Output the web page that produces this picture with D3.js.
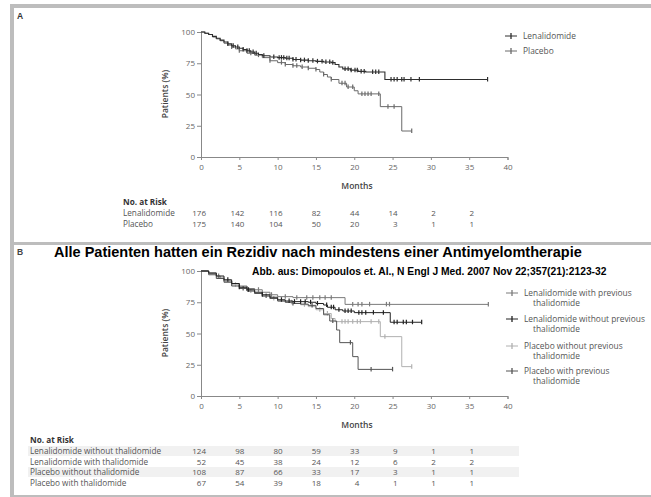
<!DOCTYPE html>
<html><head><meta charset="utf-8">
<script src="https://cdn.jsdelivr.net/npm/d3@7"></script>
<style>
html,body{margin:0;padding:0;background:#fff;}
svg{display:block;}
text{font-family:"Open Sans","DejaVu Sans",sans-serif;}
</style></head>
<body>
<svg id="chart" width="651" height="497"></svg>
<script>
// ---------- DATA ----------
const monthTicks = [0,5,10,15,20,25,30,35,40];
const pctTicks = [0,25,50,75,100];
const riskMonths = [0,5,10,15,20,25,30,35];

// Panel A
const seriesA = ["Lenalidomide","Placebo"];
const lenaA = [[0,100],[0.5,99],[1,98],[1.5,96.5],[2,95],[2.5,93.5],[3,92],[3.5,90.5],[4,89],[4.5,88],[5,87],[5.5,86],[6,85],[6.5,84],[7,83],[7.5,82],[8,81],[9,80],[10,79.5],[11,79],[12,78],[13,77.5],[14,77],[15,76.5],[16,76],[17,75.5],[17.5,74],[18,72],[18.5,70.5],[19.5,69.5],[20.5,68.5],[21.5,68],[24,62]];
const lenaAEnd = 37.4;
const lenaACens = [3.5,4.2,4.8,5.5,6,6.3,6.8,7.2,8.2,9.5,10.2,10.5,10.8,11.2,11.5,12,12.4,13,13.5,14,14.6,15.2,15.8,16.3,16.8,17.2,18.8,19.2,19.6,20.1,20.4,20.9,21.3,22.4,22.8,23.2,24.8,25.2,25.6,26.2,26.5,27.4,28.5,37.4];
const placA = [[0,100],[0.5,99],[1,98],[1.5,96],[2,94.5],[2.5,93],[3,91],[3.5,89.5],[4,88],[4.5,86.5],[5,85],[6,83],[7,81.5],[8,79.5],[9,77],[10,75.5],[11,74],[12,73],[13,72],[14,71],[15,70],[15.5,68],[16,66],[16.5,64],[17,62],[18,59],[19,56],[20,53],[20.5,50.5],[23.4,40.3],[26.2,20.8]];
const placAEnd = 27.5;
const placACens = [4,5,6.5,7.5,9,10.5,11,12,12.5,13.2,14,15,16,17,18.4,18.8,19.2,19.8,21,21.4,21.8,22.2,23.2,24.4,25.2,27.5];
const riskA_lena = [176,142,116,82,44,14,2,2];
const riskA_plac = [175,140,104,50,20,3,1,1];

// Panel B
const seriesB = ["Lenalidomide with previous|thalidomide","Lenalidomide without previous|thalidomide","Placebo without previous|thalidomide","Placebo with previous|thalidomide"];
const lenaWith = [[0,100],[1,98],[2,96],[2.5,94],[3,92],[4,90],[5,88],[6,86],[7,85],[8,83],[9,81],[10,79.5],[12,78.7],[18.8,73.3]];
const lenaWithEnd = 37.5;
const lenaWithCens = [2.3,4,6,7.5,9.2,11,12.5,13.8,14.6,15.5,16.2,17,19.8,20.5,21,22,24.2,24.6,37.5];
const lenaWithout = [[0,100],[1,98.5],[2,96],[3,93],[4,90],[5,87],[6,85],[7,83],[8,81],[9,79],[10,77],[11,76],[12,75.5],[14,75],[15,74],[16,72.8],[16.5,71],[17.5,69],[18.5,68],[20,66.7],[24.7,59]];
const lenaWithoutEnd = 28.8;
const lenaWithoutCens = [3.5,5,6.2,8,10.5,11.5,12.2,13,13.6,14.3,15.2,16.4,17,17.3,18,18.8,19.2,19.6,20.6,21,21.5,22.5,23.8,25.2,25.6,26.4,26.8,27.6,28.8];
const placWithout = [[0,100],[1,98],[2,95],[3,92],[4,89],[5,87],[6,84],[7,82],[8,80],[9,78],[10,76],[11,75],[12,74],[13,73],[14,71.5],[15,69],[16,66],[17,62],[17.5,59.5],[23.4,47.5],[26.2,23.5]];
const placWithoutEnd = 27.5;
const placWithoutCens = [4.5,6.5,9.5,11.8,13.5,15.5,16.5,18.4,18.8,19.2,19.8,20.4,20.8,22.2,23.2,24,27.5];
const placWith = [[0,100],[1,97],[2,94],[3,91],[4,88],[5,86],[6,84],[7,82],[8,80],[9,78],[10,76],[11,75],[12,74],[13,73.5],[14,72.5],[15,70],[16,65],[16.8,60],[17.7,52.8],[18.1,42.7],[19.8,31.5],[20.5,21.3]];
const placWithEnd = 25;
const placWithCens = [5.5,8.5,12,14.5,17.2,19.5,22.2,25];
const riskLabelsB = ["Lenalidomide without thalidomide","Lenalidomide with thalidomide","Placebo without thalidomide","Placebo with thalidomide"];
const riskB_lenaWithout = [124,98,80,59,33,9,1,1];
const riskB_lenaWith = [52,45,38,24,12,6,2,2];
const riskB_placWithout = [108,87,66,33,17,3,1,1];
const riskB_placWith = [67,54,39,18,4,1,1,1];

const titleB = "Alle Patienten hatten ein Rezidiv nach mindestens einer Antimyelomtherapie";
const subtitleB = "Abb. aus: Dimopoulos et. Al., N Engl J Med. 2007 Nov 22;357(21):2123-32";

// ---------- DRAW ----------
const svg = d3.select("#chart");
const frame = "#bdbdbd";
svg.append("rect").attr("x",10).attr("y",4).attr("width",641).attr("height",4).attr("fill",frame);
svg.append("rect").attr("x",10).attr("y",4).attr("width",4).attr("height",493).attr("fill",frame);
svg.append("rect").attr("x",10).attr("y",242).attr("width",641).attr("height",3).attr("fill",frame);
svg.append("rect").attr("x",10).attr("y",495).attr("width",641).attr("height",2).attr("fill",frame);

svg.append("text").attr("x",17).attr("y",18.5).text("A").attr("font-size",8.5).attr("font-weight","bold").attr("fill","#333").style("font-family","Liberation Sans, Arial, sans-serif");
svg.append("text").attr("x",17).attr("y",255).text("B").attr("font-size",8.5).attr("font-weight","bold").attr("fill","#444").style("font-family","Liberation Sans, Arial, sans-serif");

const x = d3.scaleLinear().domain([0,40]).range([201,507.5]);

function survAt(pts, t){ let s = pts[0][1]; for(const p of pts){ if(p[0] <= t) s = p[1]; } return s; }

function panel(top, curves){
  const y = d3.scaleLinear().domain([0,100]).range([top+125, top]);
  const g = svg.append("g");
  const ax = g.append("g").attr("transform",`translate(201,0)`).call(d3.axisLeft(y).tickValues(pctTicks).tickSize(4).tickPadding(2));
  const bx = g.append("g").attr("transform",`translate(0,${top+125})`).call(d3.axisBottom(x).tickValues(monthTicks).tickSize(3).tickPadding(4));
  [ax,bx].forEach(a=>{
    a.select(".domain").attr("stroke","#888");
    a.selectAll(".tick line").attr("stroke","#888");
    a.selectAll(".tick text").attr("fill","#666").attr("font-size",8).style("font-family","Open Sans, sans-serif");
  });
  g.append("text").attr("transform",`translate(168,${top+62}) rotate(-90)`).attr("text-anchor","middle").attr("font-size",8.5).attr("font-weight","600").attr("fill","#444").text("Patients (%)");
  g.append("text").attr("x",357).attr("y",top+157).attr("text-anchor","middle").attr("font-size",8.5).attr("font-weight","600").attr("fill","#444").text("Months");
  const line = d3.line().x(d=>x(d[0])).y(d=>y(d[1])).curve(d3.curveStepAfter);
  curves.forEach(c=>{
    const pts = c.pts.concat([[c.end, c.pts[c.pts.length-1][1]]]);
    g.append("path").attr("d",line(pts)).attr("fill","none").attr("stroke",c.color).attr("stroke-width",c.w||1);
    g.selectAll(null).data(c.cens).enter().append("line")
      .attr("x1",d=>x(d)).attr("x2",d=>x(d))
      .attr("y1",d=>y(survAt(c.pts,d))-2.5).attr("y2",d=>y(survAt(c.pts,d))+2)
      .attr("stroke",c.color).attr("stroke-width",1.2);
  });
  return y;
}

const colA = ["#2e2e2e","#6a6a6a"];
panel(32,[
  {pts:placA,end:placAEnd,cens:placACens,color:colA[1],w:1},
  {pts:lenaA,end:lenaAEnd,cens:lenaACens,color:colA[0],w:1.1}
]);
const colB = ["#7a7a7a","#222","#b0b0b0","#555"];
panel(271,[
  {pts:placWithout,end:placWithoutEnd,cens:placWithoutCens,color:colB[2]},
  {pts:lenaWith,end:lenaWithEnd,cens:lenaWithCens,color:colB[0]},
  {pts:placWith,end:placWithEnd,cens:placWithCens,color:colB[3]},
  {pts:lenaWithout,end:lenaWithoutEnd,cens:lenaWithoutCens,color:colB[1]}
]);

// Legends
function legendItem(xs, ys, color, lines){
  svg.append("line").attr("x1",xs).attr("x2",xs+12).attr("y1",ys-3).attr("y2",ys-3).attr("stroke",color).attr("stroke-width",1);
  svg.append("line").attr("x1",xs+6).attr("x2",xs+6).attr("y1",ys-6).attr("y2",ys).attr("stroke",color).attr("stroke-width",1.3);
  lines.forEach((t,i)=>{
    svg.append("text").attr("x",i===0?xs+18:xs+27).attr("y",ys+i*9.8).attr("font-size",8.4).attr("fill","#555").text(t);
  });
}
legendItem(505,39,colA[0],[seriesA[0]]);
legendItem(505,54,colA[1],[seriesA[1]]);
const legY = [296,322,349,374];
seriesB.forEach((s,i)=>legendItem(506,legY[i],colB[i],s.split("|")));

// Risk tables
function riskTable(x0, ytitle, rows, bands, bandEnd, fs){
  svg.append("text").attr("x",x0).attr("y",ytitle).attr("font-size",8.2).attr("font-weight","bold").attr("fill","#333").text("No. at Risk");
  rows.forEach((r,i)=>{
    const yy = ytitle + 11 + i*10.5;
    if(bands && i%2===0){
      svg.append("rect").attr("x",x0-2).attr("y",yy-8).attr("width",bandEnd-x0+2).attr("height",10).attr("fill","#f1f1f1");
    }
    svg.append("text").attr("x",x0).attr("y",yy).attr("font-size",fs).attr("fill","#555").text(r.label);
    svg.selectAll(null).data(r.vals).enter().append("text")
      .attr("x",(d,j)=>x(riskMonths[j])+5).attr("y",yy).attr("text-anchor","end")
      .attr("font-size",8).attr("fill","#555").text(d=>d);
  });
}
riskTable(123,205,[{label:"Lenalidomide",vals:riskA_lena},{label:"Placebo",vals:riskA_plac}],false,0,8.2);
riskTable(30,443,[
  {label:riskLabelsB[0],vals:riskB_lenaWithout},
  {label:riskLabelsB[1],vals:riskB_lenaWith},
  {label:riskLabelsB[2],vals:riskB_placWithout},
  {label:riskLabelsB[3],vals:riskB_placWith}],true,519,8.2);

// Titles
function fitText(sel, width){
  const w = sel.node().getComputedTextLength();
  const fs = parseFloat(sel.attr("font-size"));
  sel.attr("font-size", fs*width/w);
}
const t1 = svg.append("text").attr("x",54).attr("y",256.5).attr("font-size",14).attr("font-weight","bold").attr("fill","#000").style("font-family","Liberation Sans, Arial, sans-serif").text(titleB);
fitText(t1,528);
const t2 = svg.append("text").attr("x",252).attr("y",274.5).attr("font-size",9).attr("font-weight","bold").attr("fill","#000").style("font-family","Liberation Sans, Arial, sans-serif").text(subtitleB);
fitText(t2,355);
</script>
</body></html>
